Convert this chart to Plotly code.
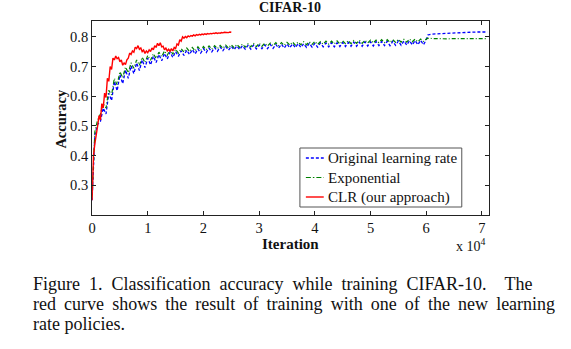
import plotly.graph_objects as go

# ---- data (accuracy) ----
step_iters = list(range(0, 60001, 500))  # sampling positions for the oscillating runs

original_lr = [
    0.250, 0.470, 0.505, 0.515, 0.560, 0.540, 0.610, 0.585, 0.650, 0.618,
    0.672, 0.642, 0.688, 0.660, 0.702, 0.676, 0.712, 0.686, 0.722, 0.696,
    0.728, 0.705, 0.735, 0.713, 0.740, 0.719, 0.744, 0.725, 0.748, 0.730,
    0.750, 0.734, 0.753, 0.737, 0.755, 0.740, 0.757, 0.742, 0.759, 0.745,
    0.760, 0.747, 0.762, 0.749, 0.764, 0.751, 0.766, 0.753, 0.767, 0.755,
    0.768, 0.756, 0.769, 0.757, 0.770, 0.758, 0.771, 0.758, 0.772, 0.759,
    0.772, 0.760, 0.773, 0.760, 0.774, 0.761, 0.774, 0.762, 0.775, 0.762,
    0.776, 0.763, 0.776, 0.763, 0.777, 0.764, 0.777, 0.764, 0.778, 0.765,
    0.778, 0.765, 0.779, 0.766, 0.779, 0.766, 0.780, 0.766, 0.780, 0.767,
    0.781, 0.767, 0.781, 0.768, 0.782, 0.768, 0.782, 0.768, 0.783, 0.769,
    0.783, 0.769, 0.784, 0.770, 0.784, 0.770, 0.785, 0.770, 0.785, 0.771,
    0.786, 0.771, 0.786, 0.772, 0.787, 0.772, 0.787, 0.773, 0.788, 0.773,
    0.789,
]
original_tail_iters = [60300, 61000, 62000, 63000, 64000, 65000, 65500, 66000, 67000, 68000, 69000, 70000, 71000]
original_tail = [0.806, 0.809, 0.810, 0.810, 0.811, 0.812, 0.813, 0.815, 0.815, 0.815, 0.816, 0.816, 0.816]

exponential = [
    0.260, 0.480, 0.520, 0.540, 0.575, 0.560, 0.620, 0.604, 0.660, 0.638,
    0.682, 0.662, 0.698, 0.679, 0.712, 0.694, 0.722, 0.704, 0.731, 0.713,
    0.737, 0.721, 0.743, 0.727, 0.748, 0.733, 0.752, 0.738, 0.755, 0.742,
    0.758, 0.745, 0.760, 0.748, 0.762, 0.750, 0.764, 0.752, 0.766, 0.754,
    0.767, 0.756, 0.769, 0.758, 0.770, 0.760, 0.771, 0.761, 0.772, 0.762,
    0.773, 0.763, 0.774, 0.764, 0.775, 0.765, 0.776, 0.766, 0.777, 0.767,
    0.778, 0.768, 0.778, 0.769, 0.779, 0.770, 0.780, 0.770, 0.780, 0.771,
    0.781, 0.772, 0.782, 0.772, 0.782, 0.773, 0.783, 0.773, 0.783, 0.774,
    0.784, 0.774, 0.784, 0.775, 0.785, 0.775, 0.785, 0.776, 0.786, 0.776,
    0.786, 0.777, 0.787, 0.777, 0.787, 0.778, 0.788, 0.778, 0.788, 0.779,
    0.789, 0.779, 0.789, 0.780, 0.790, 0.780, 0.790, 0.781, 0.790, 0.781,
    0.791, 0.782, 0.791, 0.782, 0.792, 0.783, 0.792, 0.783, 0.792, 0.784,
    0.792,
]
exponential_tail_iters = [60300, 61000, 62000, 63000, 64000, 65000, 66000, 67000, 68000, 69000, 70000, 71000]
exponential_tail = [0.795, 0.794, 0.793, 0.794, 0.793, 0.794, 0.794, 0.793, 0.794, 0.794, 0.794, 0.794]

clr_iters = list(range(0, 25001, 250))
clr = [
    0.250, 0.400, 0.440, 0.480, 0.500, 0.535, 0.520, 0.575, 0.560, 0.610,
    0.595, 0.660, 0.650, 0.700, 0.690, 0.728, 0.722, 0.735, 0.726, 0.730,
    0.716, 0.722, 0.704, 0.712, 0.706, 0.722, 0.728, 0.745, 0.740, 0.752,
    0.748, 0.765, 0.760, 0.770, 0.758, 0.762, 0.750, 0.755, 0.744, 0.752,
    0.746, 0.756, 0.750, 0.762, 0.756, 0.770, 0.764, 0.778, 0.770, 0.780,
    0.766, 0.768, 0.756, 0.762, 0.752, 0.758, 0.750, 0.760, 0.752, 0.764,
    0.760, 0.776, 0.772, 0.790, 0.785, 0.800, 0.795, 0.801, 0.797, 0.803,
    0.800, 0.804, 0.802, 0.806, 0.803, 0.807, 0.805, 0.808, 0.806, 0.809,
    0.807, 0.810, 0.808, 0.811, 0.809, 0.811, 0.810, 0.812, 0.811, 0.813,
    0.811, 0.813, 0.812, 0.814, 0.813, 0.815, 0.814, 0.815, 0.814, 0.816,
    0.815,
]

x_tick_vals = [0, 10000, 20000, 30000, 40000, 50000, 60000, 70000]
x_tick_text = ["0", "1", "2", "3", "4", "5", "6", "7"]
y_tick_vals = [0.3, 0.4, 0.5, 0.6, 0.7, 0.8]

series_names = ["Original learning rate", "Exponential", "CLR (our approach)"]
series_colors = ["#0000ff", "#008000", "#ff0000"]
series_dash = ["3px,2px", "4px,2px,1px,2px", "solid"]
series_width = [1.3, 1.2, 1.4]

NB, TS = "\u00a0", "\u2009"
caption_lines = [
    "Figure 1. Classification accuracy while training CIFAR-10.  The",
    "red curve shows the result of training with one of the new learning",
    "rate policies.",
]
# justified look of the original caption: widen the word gaps of the full lines
caption_gap = [" " + NB, " " + TS, " "]

W, H = 571, 349
SERIF = "Liberation Serif"
INK = "#111"

fig = go.Figure()
series = [
    (step_iters + original_tail_iters, original_lr + original_tail),
    (step_iters + exponential_tail_iters, exponential + exponential_tail),
    (clr_iters, clr),
]
for (xs, ys), name, col, dash, wid in zip(series, series_names, series_colors, series_dash, series_width):
    fig.add_trace(go.Scatter(x=xs, y=ys, mode="lines", name=name,
                             line=dict(color=col, width=wid, dash=dash)))

x0, x1 = 88.7 / W, 488 / W
y0, y1 = (H - 215) / H, (H - 21) / H


def px(xp):
    return xp / W


def py(yp):
    return 1 - yp / H


axis_common = dict(
    showgrid=False, zeroline=False, showline=True, linecolor="#222",
    linewidth=1, mirror="ticks", ticks="inside", ticklen=4, tickcolor="#222",
    tickfont=dict(family=SERIF, size=14.5, color=INK),
)
fig.update_layout(
    width=W, height=H, margin=dict(l=0, r=0, t=0, b=0),
    font=dict(family=SERIF, color=INK),
    paper_bgcolor="white", plot_bgcolor="white",
    xaxis=dict(domain=[x0, x1], range=[0, 71200], tickvals=x_tick_vals,
               ticktext=x_tick_text, **axis_common),
    yaxis=dict(domain=[y0, y1], range=[0.2, 0.853], tickvals=y_tick_vals,
               tickformat=".1f", **axis_common),
    showlegend=False,
)

# legend box drawn like the MATLAB one (short line samples)
shapes = [dict(type="rect", xref="paper", yref="paper", x0=px(298), x1=px(461),
               y0=py(207), y1=py(148), line=dict(color="#555", width=1),
               fillcolor="white", layer="above")]
ann = []
row_y = [158, 177.5, 197]
legend_dash = ["3px,2px", "5px,2px,1.5px,2px", "solid"]
for name, col, dash, wid, ry in zip(series_names, series_colors, legend_dash, series_width, row_y):
    shapes.append(dict(type="line", xref="paper", yref="paper", x0=px(304), x1=px(322),
                       y0=py(ry), y1=py(ry), line=dict(color=col, width=wid, dash=dash),
                       layer="above"))
    ann.append(dict(text=name, x=px(324), y=py(ry), xref="paper", yref="paper",
                    showarrow=False, xanchor="left", yanchor="middle",
                    font=dict(family=SERIF, size=15, color=INK)))

ann += [
    dict(text="<b>CIFAR-10</b>", x=(x0 + x1) / 2, y=py(7.5), xref="paper", yref="paper",
         showarrow=False, font=dict(family=SERIF, size=14, color=INK), yanchor="middle"),
    dict(text="<b>Iteration</b>", x=(x0 + x1) / 2, y=py(243.5), xref="paper", yref="paper",
         showarrow=False, font=dict(family=SERIF, size=15, color=INK), yanchor="middle"),
    dict(text="<b>Accuracy</b>", x=px(57), y=py(119), xref="paper", yref="paper",
         showarrow=False, textangle=-90, font=dict(family=SERIF, size=14.5, color=INK),
         xanchor="center", yanchor="middle"),
    dict(text="x 10<sup>4</sup>", x=px(487), y=py(245), xref="paper", yref="paper",
         showarrow=False, xanchor="right", yanchor="middle",
         font=dict(family=SERIF, size=14, color=INK)),
]
for i, line in enumerate(caption_lines):
    ann.append(dict(text=line.replace(" ", caption_gap[i]) if i < 2 else line,
                    x=px(27), y=py(284 + 20 * i), xref="paper", yref="paper",
                    showarrow=False, xanchor="left", yanchor="middle",
                    font=dict(family=SERIF, size=18, color=INK)))
fig.update_layout(annotations=ann, shapes=shapes)

fig.write_html("out.html")
